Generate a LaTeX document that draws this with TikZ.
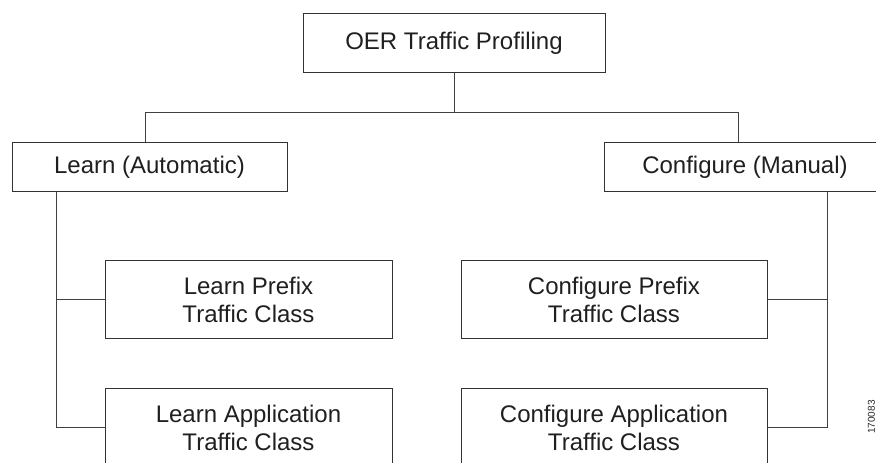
\documentclass[tikz,border=0pt]{standalone}
\usepackage{fontspec}
\setmainfont{Liberation Sans}
\usepackage{tikz}
\usepackage{xcolor}

\tikzset{
  box/.style={draw=black!80, line width=0.75pt, inner sep=0pt, align=center,
    text=black!88, font=\fontsize{18}{21}\selectfont},
  link/.style={draw=black!75, line width=0.75pt}
}

\begin{document}
\begin{tikzpicture}[x=0.75pt,y=0.75pt,yscale=-1,xscale=1]
        \useasboundingbox (0,0) rectangle (876,463);
        \clip (0,0) rectangle (876,463);

        %Top box
        \node [box, minimum width=226.5pt, minimum height=44.25pt] (profiling) at (454,43.5) {OER Traffic Profiling};

        %Second row
        \node [box, minimum width=206.25pt, minimum height=36.75pt] (learn) at (149.5,167.5) {Learn (Automatic)};
        \node [box, minimum width=211.5pt, minimum height=36.75pt] (configure) at (745,167.5) {Configure (Manual)};

        %Traffic class boxes
        \node [box, minimum width=215.25pt, minimum height=58.5pt] (learnpfx) at (248.5,300) {Learn Prefix\\Traffic Class};
        \node [box, minimum width=215.25pt, minimum height=58.5pt] (learnapp) at (248.5,428) {Learn Application\\Traffic Class};
        \node [box, minimum width=229.5pt, minimum height=58.5pt] (configpfx) at (614,300) {Configure Prefix\\Traffic Class};
        \node [box, minimum width=229.5pt, minimum height=58.5pt] (configapp) at (614,428) {Configure Application\\Traffic Class};

        %Bus and spines
        \coordinate (busL) at (145,113);
        \coordinate (busR) at (738,113);
        \coordinate (spineL) at (56,0);
        \coordinate (spineR) at (827,0);

        \draw [link] (profiling) -- (profiling |- busL);
        \draw [link] (busL |- learn.north) -- (busL) -- (busR) -- (busR |- configure.north);

        \draw [link] (learn.south -| spineL) -- (spineL |- learnapp.west) -- (learnapp.west);
        \draw [link] (spineL |- learnpfx.west) -- (learnpfx.west);
        \draw [link] (configure.south -| spineR) -- (spineR |- configapp.east) -- (configapp.east);
        \draw [link] (spineR |- configpfx.east) -- (configpfx.east);

        % Figure number
        \node [rotate=90, anchor=south, inner sep=0pt, text=black!85, font=\fontsize{7.5}{9}\selectfont] (fignum) at (875.2,417) {170083};
\end{tikzpicture}
\end{document}
